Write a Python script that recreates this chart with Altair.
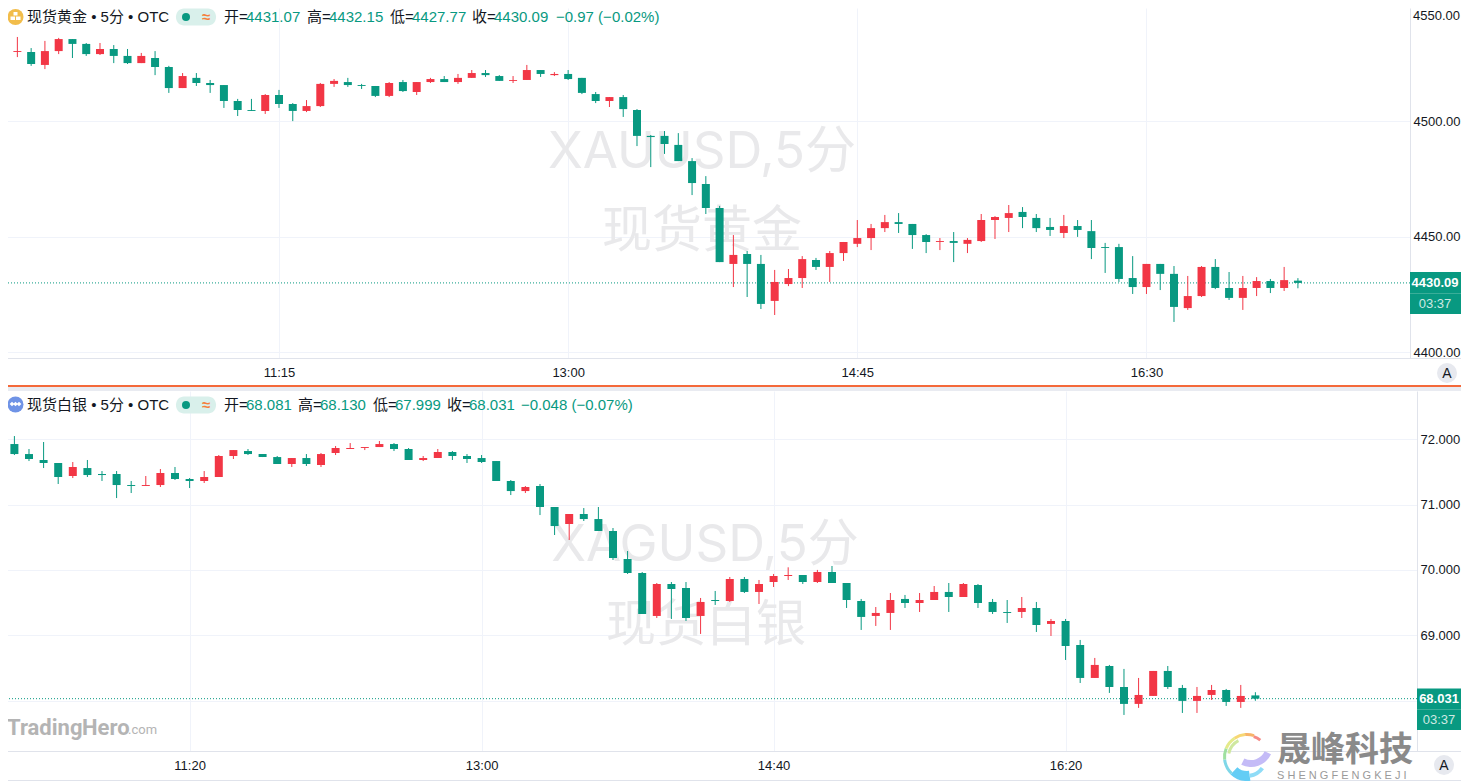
import altair as alt
import pandas as pd

# ---------- data ----------
gold_open = [4530.0,4530.0,4530.0,4524.4,4530.4,4535.6,4533.5,4529.1,4531.3,4528.3,4525.2,4527.4,4523.5,4514.4,4518.8,4516.6,4515.7,4508.8,4504.9,4504.5,
4511.4,4507.5,4504.5,4506.6,4516.2,4517.0,4515.7,4515.3,4511.0,4517.0,4512.7,4517.0,4518.3,4517.0,4518.8,4520.9,4519.6,4517.5,4517.9,4522.2,
4520.0,4520.5,4518.8,4511.8,4508.8,4510.5,4504.9,4493.7,4493.7,4489.8,4482.8,4472.9,4462.5,4438.3,4442.6,4438.3,4422.3,4429.6,4432.2,4440.0,
4437.0,4443.0,4447.0,4449.5,4453.8,4456.4,4455.6,4450.8,4447.8,4448.2,4447.0,4448.2,4457.3,4458.2,4460.8,4458.2,4454.3,4451.7,4454.7,4452.5,
4445.6,4445.6,4432.2,4428.3,4438.3,4434.0,4419.2,4424.4,4437.0,4427.9,4423.6,4427.9,4430.9,4427.9,4431.07]
gold_high = [4533.5,4536.5,4531.7,4534.8,4536.1,4535.6,4533.9,4533.9,4533.0,4531.3,4529.6,4530.4,4524.0,4520.9,4520.9,4517.9,4515.7,4509.7,4509.7,4511.8,
4513.6,4507.9,4509.2,4516.6,4518.3,4518.8,4516.2,4515.3,4517.0,4517.9,4517.0,4518.8,4519.6,4520.5,4522.2,4522.2,4520.0,4519.6,4524.4,4522.2,
4521.3,4522.2,4518.8,4512.7,4510.5,4511.4,4505.3,4494.1,4495.8,4494.9,4484.1,4476.3,4463.4,4450.8,4443.9,4442.2,4435.7,4436.1,4441.7,4440.9,
4443.9,4447.8,4457.3,4455.6,4459.5,4460.3,4455.6,4451.2,4449.5,4452.1,4449.5,4459.9,4459.0,4463.8,4462.9,4459.9,4458.2,4459.5,4457.3,4457.3,
4447.4,4447.0,4441.7,4438.3,4438.3,4437.4,4433.1,4437.4,4440.4,4434.8,4433.1,4432.6,4431.8,4437.0,4432.15]
gold_low = [4526.1,4527.8,4524.0,4522.6,4529.1,4527.4,4528.3,4528.7,4525.2,4524.8,4525.2,4520.0,4512.3,4514.4,4515.3,4512.3,4505.8,4502.3,4504.5,4503.2,
4505.8,4500.1,4504.0,4506.2,4514.9,4514.9,4514.0,4510.5,4510.5,4512.7,4511.4,4516.6,4517.0,4516.2,4518.8,4519.2,4517.5,4516.6,4517.9,4519.2,
4519.6,4517.9,4511.8,4507.9,4506.2,4501.9,4489.3,4480.2,4485.9,4482.8,4468.1,4459.9,4439.1,4428.3,4424.0,4418.8,4416.2,4428.7,4427.9,4435.7,
4430.5,4439.6,4445.6,4444.3,4452.1,4451.7,4444.8,4443.0,4444.3,4439.1,4443.0,4447.8,4449.1,4452.1,4453.8,4452.1,4450.4,4449.5,4450.0,4440.4,
4434.4,4430.5,4425.3,4425.3,4427.0,4413.2,4418.4,4424.0,4427.4,4422.7,4418.4,4424.4,4425.7,4426.6,4427.77]
gold_close = [4530.4,4530.4,4524.8,4530.4,4535.6,4533.5,4529.1,4531.3,4528.3,4525.2,4528.3,4523.5,4514.4,4519.6,4516.6,4515.7,4508.8,4504.9,4504.5,4511.4,
4507.5,4504.5,4506.6,4516.2,4517.5,4515.7,4515.3,4511.0,4516.6,4513.1,4517.0,4518.3,4517.0,4518.8,4520.9,4520.0,4517.5,4517.9,4522.2,4520.5,
4520.5,4518.3,4512.3,4508.8,4510.5,4505.3,4493.7,4493.2,4490.2,4482.8,4473.3,4462.5,4439.1,4442.2,4438.3,4421.0,4430.5,4432.2,4440.4,4437.0,
4443.0,4447.8,4449.5,4453.8,4456.4,4455.6,4450.8,4447.8,4448.2,4447.4,4448.7,4457.3,4458.6,4460.3,4458.6,4453.8,4453.0,4454.7,4453.0,4445.2,
4445.2,4431.8,4428.3,4438.3,4434.0,4419.7,4424.4,4437.0,4427.9,4423.6,4427.9,4430.9,4427.9,4431.3,4430.09]

silver_open = [72.063,71.925,71.772,71.681,71.635,71.436,71.558,71.467,71.467,71.298,71.283,71.298,71.482,71.390,71.360,71.421,71.742,71.818,71.772,71.726,
71.620,71.711,71.604,71.788,71.849,71.864,71.879,71.925,71.849,71.681,71.711,71.803,71.742,71.711,71.665,71.360,71.206,71.283,70.962,70.702,
70.855,70.778,70.595,70.167,69.953,69.296,69.785,69.724,69.296,69.540,69.525,69.861,69.663,69.815,69.907,69.922,69.815,69.968,69.800,69.525,
69.296,69.342,69.556,69.494,69.540,69.663,69.586,69.769,69.510,69.357,69.357,69.418,69.174,69.219,68.852,68.348,68.531,68.210,67.951,68.073,
68.455,68.195,67.997,68.088,68.164,67.981,68.081]
silver_high = [72.078,72.047,71.849,71.956,71.635,71.650,71.681,71.512,71.512,71.360,71.436,71.543,71.574,71.405,71.512,71.757,71.833,71.849,71.772,71.742,
71.711,71.772,71.788,71.895,71.940,71.879,71.971,71.940,71.864,71.742,71.849,71.818,71.772,71.757,71.665,71.375,71.283,71.314,70.962,70.855,
70.946,70.962,70.641,70.289,69.968,69.800,69.815,69.815,69.571,69.678,69.892,69.892,69.846,69.938,70.040,69.922,70.000,70.060,69.800,69.556,
69.433,69.647,69.617,69.647,69.754,69.800,69.800,69.785,69.556,69.540,69.586,69.510,69.250,69.250,68.929,68.654,68.547,68.486,68.348,68.455,
68.531,68.241,68.210,68.241,68.180,68.241,68.130]
silver_low = [71.849,71.757,71.665,71.558,71.314,71.405,71.421,71.360,71.099,71.176,71.283,71.268,71.375,71.252,71.329,71.421,71.696,71.757,71.726,71.620,
71.574,71.589,71.574,71.757,71.849,71.833,71.879,71.818,71.681,71.665,71.711,71.681,71.635,71.635,71.360,71.145,71.176,70.839,70.534,70.458,
70.748,70.595,70.152,69.938,69.326,69.265,69.250,69.219,69.021,69.464,69.510,69.647,69.479,69.739,69.846,69.785,69.800,69.800,69.418,69.082,
69.143,69.082,69.418,69.357,69.540,69.357,69.586,69.418,69.326,69.189,69.265,69.051,68.990,68.623,68.271,68.348,68.119,67.782,67.890,68.073,
68.180,67.813,67.813,68.012,67.920,67.890,67.999]
silver_close = [71.910,71.772,71.696,71.635,71.421,71.574,71.451,71.451,71.298,71.283,71.298,71.482,71.390,71.360,71.421,71.742,71.833,71.772,71.726,71.620,
71.711,71.620,71.772,71.864,71.864,71.879,71.925,71.849,71.681,71.711,71.803,71.742,71.696,71.650,71.360,71.206,71.268,70.962,70.671,70.855,
70.778,70.595,70.182,69.953,69.326,69.785,69.708,69.265,69.510,69.525,69.861,69.663,69.785,69.907,69.922,69.815,69.968,69.800,69.540,69.281,
69.342,69.540,69.494,69.540,69.663,69.586,69.785,69.494,69.357,69.342,69.418,69.158,69.219,68.837,68.348,68.547,68.210,67.951,68.088,68.455,
68.210,67.997,68.073,68.164,67.981,68.073,68.031]

gold_ticks = [4500, 4450, 4400]
silver_ticks = [72, 71, 70, 69, 68]
gold_time_ticks = ["2025-01-02T11:15:00", "2025-01-02T13:00:00", "2025-01-02T14:45:00", "2025-01-02T16:30:00"]
silver_time_ticks = ["2025-01-02T11:20:00", "2025-01-02T13:00:00", "2025-01-02T14:40:00", "2025-01-02T16:20:00"]

# ---------- style ----------
GREEN = "#089981"
RED = "#F23645"
INK = "#131722"
GRID = "#f0f3fa"
BORDER = "#e0e3eb"
WM = "#e9e9eb"
FONT = "Liberation Sans, Noto Sans CJK SC"
WMFONT = "Inter, Noto Sans CJK SC"
RIGHT = 1462  # the page's margin leaves nothing drawable beyond this
one = alt.Data(values=[{"k": 1}])


def frame(o, h, l, c, start):
    t = pd.date_range(start, periods=len(o), freq="5min").strftime("%Y-%m-%dT%H:%M:%S")
    return pd.DataFrame({"t": list(t), "open": o, "high": h, "low": l, "close": c})


class Panel:
    def __init__(self, ox, oy):
        self.ox, self.oy = ox, oy

    def text(self, s, x, y, size=15, color=INK, align="left", weight="normal", font=FONT):
        return alt.Chart(one).mark_text(align=align, baseline="middle", fontSize=size, font=font,
                                        fontWeight=weight, color=color).encode(
            x=alt.value(x - self.ox), y=alt.value(y - self.oy), text=alt.value(s))

    def rect(self, x0, x1, y0, y1, color, radius=0):
        return alt.Chart(one).mark_rect(color=color, cornerRadius=radius).encode(
            x=alt.value(x0 - self.ox), x2=alt.value(x1 - self.ox),
            y=alt.value(y0 - self.oy), y2=alt.value(y1 - self.oy))

    def dot(self, x, y, size, color, shape="circle"):
        return alt.Chart(one).mark_point(filled=True, size=size, color=color, opacity=1, shape=shape, strokeWidth=0).encode(
            x=alt.value(x - self.ox), y=alt.value(y - self.oy))

    def arc(self, x, y, r0, r1, a0, a1, color):
        return alt.Chart(one).mark_arc(innerRadius=r0, outerRadius=r1, theta=a0, theta2=a1, color=color).encode(
            x=alt.value(x - self.ox), y=alt.value(y - self.oy))


def axes(time_ticks, ticks, yfmt, pad):
    xaxis = alt.Axis(title=None, values=time_ticks, format="%H:%M", grid=True, gridColor=GRID, gridWidth=1, tickSize=0,
                     domainColor=BORDER, labelFont=FONT, labelFontSize=13, labelColor=INK, labelPadding=8,
                     labelFlush=False, labelOverlap=False)
    yaxis = alt.Axis(title=None, orient="right", values=ticks, format=yfmt, grid=True, gridColor=GRID, gridWidth=1, tickSize=0,
                     domainColor=BORDER, labelFont=FONT, labelFontSize=13, labelColor=INK, labelPadding=pad, labelFlush=False,
                     labelOverlap=False)
    return xaxis, yaxis


def candles(df, xscale, yscale, xaxis, yaxis):
    base = alt.Chart(df)
    updown = alt.condition("datum.close > datum.open", alt.value(RED), alt.value(GREEN))
    wick = base.mark_rule(strokeWidth=1, clip=True).encode(
        x=alt.X("t:T", scale=xscale, axis=xaxis),
        y=alt.Y("high:Q", scale=yscale, axis=yaxis),
        y2="low:Q", color=updown)
    body = base.mark_bar(size=8, orient="vertical", clip=True).encode(
        x=alt.X("t:T", scale=xscale, axis=xaxis),
        y=alt.Y("open:Q", scale=yscale, axis=yaxis),
        y2="close:Q", color=updown)
    return wick, body


def last_line(value, yscale, yaxis):
    return alt.Chart(alt.Data(values=[{"p": value}])).mark_rule(color=GREEN, strokeWidth=1, strokeDash=[1, 2]).encode(
        y=alt.Y("p:Q", scale=yscale, axis=yaxis))


def header(p, y, names):
    parts = [p.text(names["label"], 28, y)]
    parts.append(p.rect(177, 217, y - 8.5, y + 8.5, "#d9f0eb", radius=8))
    parts.append(p.dot(187, y, 64, GREEN))
    parts.append(p.text("≈", 207, y, size=15, color="#f57f3c", align="center", weight="bold"))
    for s, x, c in names["items"]:
        parts.append(p.text(s, x, y, color=c))
    return parts


# ---------- top panel ----------
top_w, top_h = 1403, 350
p1 = Panel(8, 8)
gold = frame(gold_open, gold_high, gold_low, gold_close, "2025-01-02 09:35")
gold_x = alt.Scale(domain=["2025-01-02T09:36:14", "2025-01-02T18:05:42"], padding=0)
gold_y = alt.Scale(domain=[4397.6, 4549.04], zero=False, nice=False)
ax1, ay1 = axes(gold_time_ticks, gold_ticks, ".2f", 3)
w1, b1 = candles(gold, gold_x, gold_y, ax1, ay1)
top_layers = [
    p1.text("XAUUSD,5分", 703, 153, size=51, color=WM, align="center", font=WMFONT),
    p1.text("现货黄金", 703, 232, size=50, color=WM, align="center", font=WMFONT),
    last_line(gold_close[-1], gold_y, ay1), w1, b1,
    p1.rect(1411, RIGHT, 358, 359, BORDER),
    p1.text("4550.00", 1414, 16, size=13),
    p1.rect(1411, RIGHT, 272, 314, GREEN),
    p1.rect(1411, RIGHT, 293, 294, "#3aae99"),
    p1.text("4430.09", 1436, 282.5, size=13, color="#ffffff", align="center", weight="bold"),
    p1.text("03:37", 1436, 304, size=13, color="#cfe9e3", align="center"),
    p1.dot(1448, 373, 400, "#e7e9ef"),
    p1.text("A", 1448, 373.5, size=14, align="center"),
    p1.rect(8, RIGHT, 385, 387, "#f4693a"),
    p1.rect(8, RIGHT, 387, 391, "#e9ebf1"),
    p1.dot(16.5, 17, 256, "#f2bd4b"),
    p1.rect(14.5, 18.5, 12, 15.5, "#ffffff"),
    p1.rect(11.5, 16, 16.5, 20, "#ffffff"),
    p1.rect(17, 21.5, 16.5, 20, "#ffffff"),
] + header(p1, 17, {
    "label": "现货黄金 • 5分 • OTC",
    "items": [("开=", 225, INK), ("4431.07", 247, GREEN), ("高=", 308, INK), ("4432.15", 330, GREEN),
              ("低=", 391, INK), ("4427.77", 413, GREEN), ("收=", 473, INK), ("4430.09", 495, GREEN),
              ("−0.97 (−0.02%)", 557, GREEN)],
})
top = alt.layer(*top_layers).properties(width=top_w, height=top_h)

# ---------- bottom panel ----------
bot_w, bot_h = 1410, 360
p2 = Panel(8, 391)
silver = frame(silver_open, silver_high, silver_low, silver_close, "2025-01-02 10:15")
silver_x = alt.Scale(domain=["2025-01-02T10:17:28", "2025-01-02T18:20:21"], padding=0)
silver_y = alt.Scale(domain=[67.231, 72.736], zero=False, nice=False)
ax2, ay2 = axes(silver_time_ticks, silver_ticks, ".3f", 3)
w2, b2 = candles(silver, silver_x, silver_y, ax2, ay2)
logo_c = (1248, 757)
logo = [
    p2.arc(*logo_c, 21, 24, 3.9, 4.6, "#7fd7e8"),
    p2.arc(*logo_c, 21, 24, 4.6, 5.1, "#9fe0a0"),
    p2.arc(*logo_c, 21, 24, 5.1, 5.7, "#e4ea8a"),
    p2.arc(*logo_c, 21, 24, 5.7, 6.2, "#f7d774"),
    p2.arc(*logo_c, 21, 24, 6.2, 6.6, "#f7b46a"),
    p2.arc(*logo_c, 20, 23, 6.6, 6.95, "#f58a86"),
    p2.arc(*logo_c, 17, 20, 4.9, 5.8, "#cfe8a0"),
    p2.arc(*logo_c, 14, 24, 3.0, 3.9, "#63cdf5"),
    p2.arc(*logo_c, 17, 21, 2.2, 3.0, "#8fdcf7"),
    p2.arc(1252, 745, 15, 22, 2.0, 3.6, "#c4bbf7"),
]
bot_layers = [
    p2.text("XAGUSD,5分", 706, 546, size=51, color=WM, align="center", font=WMFONT),
    p2.text("现货白银", 707, 626, size=50, color=WM, align="center", font=WMFONT),
    last_line(silver_close[-1], silver_y, ay2), w2, b2,
    p2.rect(1418, RIGHT, 751, 752, BORDER),
    p2.rect(8, RIGHT, 780, 781, BORDER),
    p2.rect(1418, RIGHT, 688.5, 730, GREEN),
    p2.rect(1418, RIGHT, 709, 710, "#3aae99"),
    p2.text("68.031", 1440, 699, size=13, color="#ffffff", align="center", weight="bold"),
    p2.text("03:37", 1440, 720, size=13, color="#cfe9e3", align="center"),
    p2.dot(1445, 765, 400, "#e7e9ef"),
    p2.text("A", 1445, 765.5, size=14, align="center"),
    p2.dot(16.5, 404.5, 256, "#6f93e6"),
    p2.dot(13, 404, 22, "#ffffff", shape="diamond"),
    p2.dot(16.5, 404, 22, "#ffffff", shape="diamond"),
    p2.dot(20, 404, 22, "#ffffff", shape="diamond"),
    p2.text("Trading", 8, 728, size=22, color="#b4b4b4", weight="bold", font="Roboto"),
    p2.text("Hero", 83, 728, size=22, color="#b4b4b4", weight="bold", font="Roboto"),
    p2.text(".com", 129, 730, size=13, color="#b4b4b4", font="Roboto"),
    p2.text("晟峰科技", 1278, 751, size=34, color="#8a8a8a", weight="bold", font="Noto Sans CJK SC"),
    p2.text("S H E N G F E N G K E J I", 1278, 776, size=11, color="#9a9a9a"),
] + logo + header(p2, 405, {
    "label": "现货白银 • 5分 • OTC",
    "items": [("开=", 225, INK), ("68.081", 247, GREEN), ("高=", 299, INK), ("68.130", 321, GREEN),
              ("低=", 374, INK), ("67.999", 396, GREEN), ("收=", 448, INK), ("68.031", 470, GREEN),
              ("−0.048 (−0.07%)", 522, GREEN)],
})
bottom = alt.layer(*bot_layers).properties(width=bot_w, height=bot_h)

chart = alt.vconcat(top, bottom, spacing=33, bounds="flush").properties(
    padding={"left": -2, "top": 0, "right": 0, "bottom": 0}, background="white"
).configure_view(stroke=None)

chart.save("out.html", embed_options={"renderer": "svg", "actions": False})
